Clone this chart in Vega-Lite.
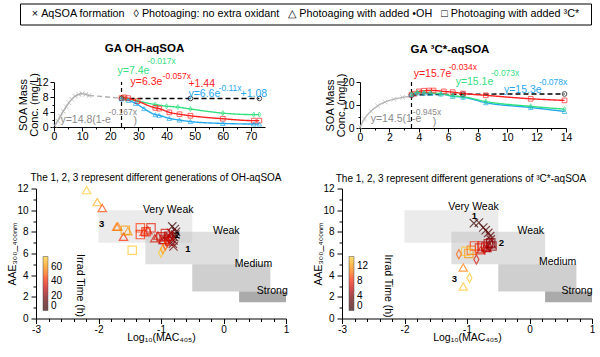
{
 "$schema": "https://vega.github.io/schema/vega-lite/v6.json",
 "background": "white",
 "padding": {"left": 0, "top": 2.5, "right": 0, "bottom": 0},
 "config": {
  "font": "Liberation Sans",
  "view": {"stroke": null},
  "axis": {"grid": false, "domainColor": "black", "tickColor": "black", "labelColor": "black", "titleColor": "black", "labelFont": "Liberation Sans", "titleFont": "Liberation Sans", "labelFontSize": 10, "titleFontSize": 10.5, "titleFontWeight": "normal", "domainWidth": 1, "tickWidth": 1, "labelFlush": false, "labelOverlap": false},
  "legend": {"labelFont": "Liberation Sans", "labelFontSize": 10, "labelColor": "black"},
  "title": {"font": "Liberation Sans", "color": "black"},
  "text": {"font": "Liberation Sans"}
 },
 "datasets": {
  "tl": [
   {"t":0.3,"c":0.4,"s":"form"},{"t":1.3,"c":1.6,"s":"form"},{"t":2.3,"c":2.9,"s":"form"},{"t":3.3,"c":4.2,"s":"form"},{"t":4.3,"c":5.4,"s":"form"},{"t":5.3,"c":6.5,"s":"form"},{"t":6.3,"c":7.4,"s":"form"},{"t":7.5,"c":8.2,"s":"form"},{"t":8.8,"c":8.7,"s":"form"},{"t":10,"c":8.9,"s":"form"},{"t":11.3,"c":8.7,"s":"form"},{"t":12.5,"c":8.4,"s":"form"},
   {"t":12.5,"c":8.4,"s":"formtail"},{"t":24,"c":7.7,"s":"formtail"},
   {"t":24,"c":7.6,"s":"ctrl"},{"t":48.5,"c":7.6,"s":"ctrl"},{"t":73,"c":7.6,"s":"ctrl"},
   {"t":24,"c":7.6,"s":"none"},{"t":25.5,"c":7.5,"s":"none"},{"t":29.7,"c":6.9,"s":"none"},{"t":36,"c":6.0,"s":"none"},{"t":40,"c":5.55,"s":"none"},{"t":44,"c":5.3,"s":"none"},{"t":48.5,"c":4.8,"s":"none"},{"t":60,"c":3.7,"s":"none"},{"t":71,"c":3.3,"s":"none"},{"t":73,"c":3.3,"s":"none"},
   {"t":24,"c":7.7,"s":"c3"},{"t":25,"c":7.9,"s":"c3"},{"t":26.3,"c":7.7,"s":"c3"},{"t":29.7,"c":6.9,"s":"c3"},{"t":36,"c":5.1,"s":"c3"},{"t":37.4,"c":4.9,"s":"c3"},{"t":41,"c":3.9,"s":"c3"},{"t":44.6,"c":3.4,"s":"c3"},{"t":48.5,"c":3.0,"s":"c3"},{"t":60,"c":2.2,"s":"c3"},{"t":71,"c":1.7,"s":"c3"},{"t":73,"c":1.7,"s":"c3"},
   {"t":24,"c":7.5,"s":"oh"},{"t":26.5,"c":7.1,"s":"oh"},{"t":29,"c":6.3,"s":"oh"},{"t":32,"c":4.9,"s":"oh"},{"t":36,"c":3.3,"s":"oh"},{"t":37.4,"c":3.1,"s":"oh"},{"t":41,"c":2.3,"s":"oh"},{"t":44.6,"c":1.85,"s":"oh"},{"t":48.5,"c":1.45,"s":"oh"},{"t":60,"c":0.95,"s":"oh"},{"t":71,"c":0.8,"s":"oh"},{"t":73,"c":0.8,"s":"oh"}
  ],
  "tl_rule": [{"t":24,"c":0,"c2":12}],
  "tl_txt": [
   {"t":22.6,"c":14.9,"label":"y=7.4e","s":"none","k":"m"},
   {"t":33.2,"c":17.5,"label":"-0.017x","s":"none","k":"s"},
   {"t":27.2,"c":11.9,"label":"y=6.3e","s":"c3","k":"m"},
   {"t":38.6,"c":13.5,"label":"-0.057x","s":"c3","k":"s"},
   {"t":47.8,"c":11.6,"label":"+1.44","s":"c3","k":"m"},
   {"t":47.8,"c":8.9,"label":"y=6.6e","s":"oh","k":"m"},
   {"t":58.5,"c":10.3,"label":"-0.11x","s":"oh","k":"s"},
   {"t":66.3,"c":8.9,"label":"+1.08","s":"oh","k":"m"},
   {"t":2.3,"c":2.0,"label":"y=14.8(1-e","s":"formtxt","k":"m"},
   {"t":19.4,"c":4.1,"label":"-0.167x","s":"formtxt","k":"s"},
   {"t":28.3,"c":1.7,"label":")","s":"formtxt","k":"m"}
  ],
  "tr": [
   {"t":0,"c":0.3,"s":"form"},{"t":0.3,"c":4.0,"s":"form"},{"t":0.75,"c":7.3,"s":"form"},{"t":1.2,"c":9.6,"s":"form"},{"t":1.7,"c":11.3,"s":"form"},{"t":2.3,"c":12.5,"s":"form"},{"t":2.9,"c":13.3,"s":"form"},{"t":3.4,"c":13.8,"s":"form"},
   {"t":3.5,"c":14.3,"s":"ctrl"},{"t":7.0,"c":14.7,"s":"ctrl"},{"t":13.9,"c":14.8,"s":"ctrl"},
   {"t":3.5,"c":14.5,"s":"c3"},{"t":3.7,"c":14.9,"s":"c3"},{"t":4.0,"c":15.9,"s":"c3"},{"t":4.35,"c":16.2,"s":"c3"},{"t":4.7,"c":16.3,"s":"c3"},{"t":5.0,"c":16.3,"s":"c3"},{"t":5.7,"c":15.9,"s":"c3"},{"t":6.3,"c":15.6,"s":"c3"},{"t":7.0,"c":15.0,"s":"c3"},{"t":8.55,"c":14.2,"s":"c3"},{"t":11.6,"c":12.7,"s":"c3"},{"t":13.9,"c":12.0,"s":"c3"},
   {"t":3.5,"c":14.6,"s":"oh"},{"t":3.9,"c":15.3,"s":"oh"},{"t":4.35,"c":15.2,"s":"oh"},{"t":4.8,"c":15.0,"s":"oh"},{"t":5.5,"c":14.8,"s":"oh"},{"t":6.3,"c":13.8,"s":"oh"},{"t":7.0,"c":13.4,"s":"oh"},{"t":8.55,"c":11.0,"s":"oh"},{"t":11.6,"c":8.9,"s":"oh"},{"t":13.9,"c":7.2,"s":"oh"},
   {"t":3.5,"c":14.6,"s":"none"},{"t":3.9,"c":15.4,"s":"none"},{"t":4.35,"c":15.4,"s":"none"},{"t":4.8,"c":15.2,"s":"none"},{"t":5.5,"c":14.9,"s":"none"},{"t":6.3,"c":14.0,"s":"none"},{"t":7.0,"c":13.6,"s":"none"},{"t":8.55,"c":11.5,"s":"none"},{"t":11.6,"c":9.4,"s":"none"},{"t":13.9,"c":8.2,"s":"none"}
  ],
  "tr_rule": [{"t":3.5,"c":0,"c2":20}],
  "tr_txt": [
   {"t":3.65,"c":23.3,"label":"y=15.7e","s":"c3","k":"m"},
   {"t":6.03,"c":26.6,"label":"-0.034x","s":"c3","k":"s"},
   {"t":6.5,"c":20.1,"label":"y=15.1e","s":"none","k":"m"},
   {"t":8.9,"c":23.7,"label":"-0.073x","s":"none","k":"s"},
   {"t":9.78,"c":16.4,"label":"y=15.3e","s":"oh","k":"m"},
   {"t":12.16,"c":20.1,"label":"-0.078x","s":"oh","k":"s"},
   {"t":0.73,"c":4.1,"label":"y=14.5(1-e","s":"formtxt","k":"m"},
   {"t":3.59,"c":7.0,"label":"-0.945x","s":"formtxt","k":"s"},
   {"t":4.95,"c":2.8,"label":")","s":"formtxt","k":"m"}
  ],
  "rects": [
   {"x":-2,"x2":-0.5,"y":7,"y2":10,"r":"Very Weak"},
   {"x":-1.25,"x2":0.25,"y":5,"y2":8,"r":"Weak"},
   {"x":-0.5,"x2":0.75,"y":2.5,"y2":5,"r":"Medium"},
   {"x":0.25,"x2":1,"y":1.5,"y2":2.5,"r":"Strong"}
  ],
  "bl_lab": [
   {"x":-0.885,"y":10.0,"label":"Very Weak"},{"x":0.044,"y":8.1,"label":"Weak"},{"x":0.48,"y":5.05,"label":"Medium"},{"x":0.78,"y":2.55,"label":"Strong"}
  ],
  "br_lab": [
   {"x":-0.896,"y":10.3,"label":"Very Weak"},{"x":0.02,"y":8.1,"label":"Weak"},{"x":0.45,"y":5.17,"label":"Medium"},{"x":0.76,"y":2.55,"label":"Strong"}
  ],
  "bl_gen": [{"x":-1.95,"y":8.7,"label":"3"},{"x":-0.74,"y":7.7,"label":"2"},{"x":-0.57,"y":6.4,"label":"1"}],
  "br_gen": [{"x":-0.88,"y":9.45,"label":"1"},{"x":-0.45,"y":7.0,"label":"2"},{"x":-1.2,"y":3.64,"label":"3"}],
  "bl_cb": [{"x":-2.3,"y":3.05,"label":"Irrad Time (h)"}],
  "br_cb": [{"x":-2.27,"y":3.0,"label":"Irrad Time (h)"}],
  "bl": [
   {"x":-0.82,"y":8.5,"s":"form","t":1},{"x":-0.78,"y":8.25,"s":"form","t":3},{"x":-0.76,"y":8.0,"s":"form","t":5},{"x":-0.77,"y":7.75,"s":"form","t":7},{"x":-0.79,"y":7.5,"s":"form","t":9},{"x":-0.8,"y":7.2,"s":"form","t":12},{"x":-0.81,"y":6.9,"s":"form","t":15},{"x":-0.8,"y":6.65,"s":"form","t":18},{"x":-0.84,"y":7.9,"s":"form","t":21},{"x":-0.86,"y":7.6,"s":"form","t":24},
   {"x":-2.19,"y":11.85,"s":"oh","t":72},{"x":-2.02,"y":10.74,"s":"oh","t":66},{"x":-1.94,"y":10.2,"s":"oh","t":48},{"x":-1.71,"y":8.47,"s":"oh","t":54},{"x":-1.69,"y":8.5,"s":"oh","t":56},{"x":-1.53,"y":8.06,"s":"oh","t":60},{"x":-1.6,"y":7.55,"s":"oh","t":44},{"x":-1.27,"y":8.0,"s":"oh","t":42},{"x":-1.21,"y":8.15,"s":"oh","t":40},{"x":-1.1,"y":7.4,"s":"oh","t":36},{"x":-1.05,"y":7.65,"s":"oh","t":33},{"x":-0.97,"y":7.25,"s":"oh","t":30},{"x":-0.92,"y":7.5,"s":"oh","t":27},
   {"x":-1.57,"y":8.15,"s":"c3","t":62},{"x":-1.46,"y":6.3,"s":"c3","t":72},{"x":-1.33,"y":8.37,"s":"c3","t":46},{"x":-1.33,"y":7.75,"s":"c3","t":44},{"x":-1.24,"y":8.0,"s":"c3","t":40},{"x":-1.16,"y":8.37,"s":"c3","t":38},{"x":-1.0,"y":7.55,"s":"c3","t":36},{"x":-0.93,"y":7.85,"s":"c3","t":34},{"x":-0.95,"y":7.3,"s":"c3","t":31},{"x":-0.88,"y":7.6,"s":"c3","t":28},{"x":-0.86,"y":7.15,"s":"c3","t":26},
   {"x":-1.0,"y":6.07,"s":"none","t":72},{"x":-0.97,"y":6.4,"s":"none","t":62},{"x":-0.93,"y":6.75,"s":"none","t":50},{"x":-0.9,"y":7.05,"s":"none","t":40},{"x":-0.87,"y":7.35,"s":"none","t":30}
  ],
  "br": [
   {"x":-0.89,"y":8.8,"s":"form","t":0.3},{"x":-0.81,"y":8.85,"s":"form","t":0.8},{"x":-0.74,"y":8.4,"s":"form","t":1.3},{"x":-0.7,"y":8.15,"s":"form","t":1.8},{"x":-0.66,"y":7.9,"s":"form","t":2.3},{"x":-0.63,"y":7.6,"s":"form","t":2.8},{"x":-0.62,"y":7.3,"s":"form","t":3.3},
   {"x":-0.62,"y":7.0,"s":"c3","t":4},{"x":-0.6,"y":6.7,"s":"c3","t":4.5},{"x":-0.66,"y":6.9,"s":"c3","t":5},{"x":-0.7,"y":6.6,"s":"c3","t":5.5},{"x":-0.76,"y":6.7,"s":"c3","t":6},{"x":-0.8,"y":6.5,"s":"c3","t":7},{"x":-0.88,"y":6.7,"s":"c3","t":8.5},{"x":-0.93,"y":6.3,"s":"c3","t":10},{"x":-0.97,"y":6.0,"s":"c3","t":12},{"x":-1.02,"y":6.2,"s":"c3","t":14},
   {"x":-0.64,"y":6.6,"s":"none","t":4.5},{"x":-0.72,"y":6.4,"s":"none","t":6},{"x":-1.13,"y":5.93,"s":"none","t":10},{"x":-0.85,"y":5.45,"s":"none","t":7},{"x":-0.96,"y":3.75,"s":"none","t":14},
   {"x":-0.61,"y":6.85,"s":"oh","t":4},{"x":-0.68,"y":6.5,"s":"oh","t":5.5},{"x":-0.78,"y":6.3,"s":"oh","t":7},{"x":-1.06,"y":4.7,"s":"oh","t":11},{"x":-1.06,"y":2.95,"s":"oh","t":14}
  ]
 },
 "spacing": 17.5,
 "resolve": {"scale": {"color": "independent", "shape": "independent", "stroke": "independent", "fill": "independent", "strokeDash": "independent"}},
 "vconcat": [
  {
   "spacing": 0, "bounds": "flush",
   "hconcat": [
    {"width": 20, "height": 21, "view": {"fill": "transparent"}, "data": {"values": []}, "mark": "point"},
    {
     "width": 571, "height": 21,
     "view": {"stroke": "black", "strokeWidth": 1},
     "data": {"values": [{"label": "×\u00a0AqSOA formation\u00a0\u00a0\u00a0◊\u00a0Photoaging: no extra oxidant\u00a0\u00a0\u00a0△\u00a0Photoaging with added •OH\u00a0\u00a0\u00a0□\u00a0Photoaging with added ³C*"}]},
     "mark": {"type": "text", "fontSize": 10.8, "align": "center", "baseline": "middle", "color": "black"},
     "encoding": {"text": {"field": "label"}}
    }
   ]
  },
  {
   "spacing": 0, "bounds": "flush",
   "resolve": {"scale": {"color": "independent", "shape": "independent", "stroke": "independent", "fill": "independent", "strokeDash": "independent"}},
   "hconcat": [
    {"width": 53.5, "height": 72.5, "view": {"fill": "transparent"}, "data": {"values": []}, "mark": "point"},
    {
     "width": 211, "height": 45,
     "title": {"text": "GA OH-aqSOA", "fontSize": 11.5, "fontWeight": "bold", "offset": 2.5, "dx": -15},
     "data": {"name": "tl"},
     "encoding": {
      "x": {"field": "t", "type": "quantitative", "scale": {"domain": [0, 75], "nice": false, "zero": false},
       "axis": {"title": null, "values": [0,5,10,15,20,25,30,35,40,45,50,55,60,65,70], "labelExpr": "datum.value % 10 === 0 ? datum.label : ''", "tickSize": {"condition": {"test": "datum.value % 10 === 0", "value": 4}, "value": 2}, "labelPadding": 0.5, "labelFontSize": 10.5}},
      "y": {"field": "c", "type": "quantitative", "scale": {"domain": [0, 12], "nice": false, "zero": false},
       "axis": {"title": ["SOA Mass", "Conc. (mg/L)"], "values": [0,2,4,6,8,10,12], "labelExpr": "datum.value % 4 === 0 ? datum.label : ''", "tickSize": {"condition": {"test": "datum.value % 4 === 0", "value": 4}, "value": 2}, "labelPadding": 2, "titlePadding": -3, "titleFontSize": 11, "titleLineHeight": 11, "labelFontSize": 10.5}}
     },
     "layer": [
      {"data": {"name": "tl_rule"}, "mark": {"type": "rule", "color": "black", "strokeWidth": 1.2, "strokeDash": [4, 3]}, "encoding": {"y2": {"field": "c2"}}},
      {"mark": {"type": "line", "strokeWidth": 1.4, "interpolate": "monotone"},
       "encoding": {
        "color": {"field": "s", "type": "nominal", "legend": null, "scale": {"domain": ["form","formtail","formtxt","ctrl","none","oh","c3"], "range": ["#b0b0b0","#b0b0b0","#8a8a8a","#000000","#33e07f","#1fa8ee","#ff2020"]}},
        "strokeDash": {"field": "s", "type": "nominal", "legend": null, "scale": {"domain": ["form","formtail","ctrl","none","oh","c3"], "range": [[1,0],[5,3],[5,3],[1,0],[1,0],[1,0]]}}
       }},
      {"transform": [{"filter": "datum.s !== 'formtail'"}], "mark": {"type": "point", "filled": false, "size": 22, "strokeWidth": 1},
       "encoding": {
        "color": {"field": "s", "type": "nominal", "legend": null, "scale": {"domain": ["form","formtail","formtxt","ctrl","none","oh","c3"], "range": ["#b0b0b0","#b0b0b0","#8a8a8a","#000000","#33e07f","#1fa8ee","#ff2020"]}},
        "shape": {"field": "s", "type": "nominal", "legend": null, "scale": {"domain": ["form","ctrl","none","oh","c3"], "range": ["M-1,-1L1,1M-1,1L1,-1","circle","M0,-1.1L0.6,0L0,1.1L-0.6,0Z","triangle-up","square"]}}
       }},
      {"data": {"name": "tl_txt"}, "transform": [{"filter": "datum.k === 'm'"}], "mark": {"type": "text", "align": "left", "baseline": "middle", "fontSize": 10.5},
       "encoding": {"text": {"field": "label"}, "color": {"field": "s", "type": "nominal", "legend": null, "scale": {"domain": ["form","formtail","formtxt","ctrl","none","oh","c3"], "range": ["#b0b0b0","#b0b0b0","#8a8a8a","#000000","#33e07f","#1fa8ee","#ff2020"]}}}},
      {"data": {"name": "tl_txt"}, "transform": [{"filter": "datum.k === 's'"}], "mark": {"type": "text", "align": "left", "baseline": "middle", "fontSize": 8.5},
       "encoding": {"text": {"field": "label"}, "color": {"field": "s", "type": "nominal", "legend": null, "scale": {"domain": ["form","formtail","formtxt","ctrl","none","oh","c3"], "range": ["#b0b0b0","#b0b0b0","#8a8a8a","#000000","#33e07f","#1fa8ee","#ff2020"]}}}}
     ]
    },
    {"width": 94.9, "height": 45, "view": {"fill": "transparent"}, "data": {"values": []}, "mark": "point"},
    {
     "width": 206, "height": 46,
     "title": {"text": "GA ³C*-aqSOA", "fontSize": 11.5, "fontWeight": "bold", "offset": 7.5, "dx": -13},
     "data": {"name": "tr"},
     "encoding": {
      "x": {"field": "t", "type": "quantitative", "scale": {"domain": [0, 14], "nice": false, "zero": false},
       "axis": {"title": null, "values": [0,1,2,3,4,5,6,7,8,9,10,11,12,13,14], "labelExpr": "datum.value % 2 === 0 ? datum.label : ''", "tickSize": {"condition": {"test": "datum.value % 2 === 0", "value": 4}, "value": 2}, "labelPadding": 0.5, "labelFontSize": 10.5}},
      "y": {"field": "c", "type": "quantitative", "scale": {"domain": [0, 20], "nice": false, "zero": false},
       "axis": {"title": ["SOA Mass", "Conc. (mg/L)"], "values": [0,5,10,15,20], "labelExpr": "datum.value % 10 === 0 ? datum.label : ''", "tickSize": {"condition": {"test": "datum.value % 10 === 0", "value": 4}, "value": 2}, "labelPadding": 2, "titlePadding": -4, "titleFontSize": 11, "titleLineHeight": 11, "labelFontSize": 10.5}}
     },
     "layer": [
      {"data": {"name": "tr_rule"}, "mark": {"type": "rule", "color": "black", "strokeWidth": 1.2, "strokeDash": [4, 3]}, "encoding": {"y2": {"field": "c2"}}},
      {"mark": {"type": "line", "strokeWidth": 1.4, "interpolate": "monotone"},
       "encoding": {
        "color": {"field": "s", "type": "nominal", "legend": null, "scale": {"domain": ["form","formtail","formtxt","ctrl","none","oh","c3"], "range": ["#b8b8b8","#b8b8b8","#8a8a8a","#000000","#33e07f","#1fa8ee","#ff2020"]}},
        "strokeDash": {"field": "s", "type": "nominal", "legend": null, "scale": {"domain": ["form","formtail","ctrl","none","oh","c3"], "range": [[1,0],[5,3],[5,3],[1,0],[1,0],[1,0]]}}
       }},
      {"mark": {"type": "point", "filled": false, "size": 22, "strokeWidth": 1},
       "encoding": {
        "color": {"field": "s", "type": "nominal", "legend": null, "scale": {"domain": ["form","formtail","formtxt","ctrl","none","oh","c3"], "range": ["#b8b8b8","#b8b8b8","#8a8a8a","#000000","#33e07f","#1fa8ee","#ff2020"]}},
        "shape": {"field": "s", "type": "nominal", "legend": null, "scale": {"domain": ["form","ctrl","none","oh","c3"], "range": ["M-1,-1L1,1M-1,1L1,-1","circle","M0,-1.1L0.6,0L0,1.1L-0.6,0Z","triangle-up","square"]}}
       }},
      {"data": {"name": "tr_txt"}, "transform": [{"filter": "datum.k === 'm'"}], "mark": {"type": "text", "align": "left", "baseline": "middle", "fontSize": 10.5},
       "encoding": {"text": {"field": "label"}, "color": {"field": "s", "type": "nominal", "legend": null, "scale": {"domain": ["form","formtail","formtxt","ctrl","none","oh","c3"], "range": ["#b8b8b8","#b8b8b8","#8a8a8a","#000000","#33e07f","#1fa8ee","#ff2020"]}}}},
      {"data": {"name": "tr_txt"}, "transform": [{"filter": "datum.k === 's'"}], "mark": {"type": "text", "align": "left", "baseline": "middle", "fontSize": 8.5},
       "encoding": {"text": {"field": "label"}, "color": {"field": "s", "type": "nominal", "legend": null, "scale": {"domain": ["form","formtail","formtxt","ctrl","none","oh","c3"], "range": ["#b8b8b8","#b8b8b8","#8a8a8a","#000000","#33e07f","#1fa8ee","#ff2020"]}}}}
     ]
    }
   ]
  },
  {
   "spacing": 0, "bounds": "flush",
   "resolve": {"scale": {"color": "independent", "shape": "independent", "stroke": "independent", "fill": "independent", "strokeDash": "independent"}},
   "hconcat": [
    {"width": 36, "height": 130, "view": {"fill": "transparent"}, "data": {"values": []}, "mark": "point"},
    {
     "width": 250, "height": 130,
     "title": {"text": "The 1, 2, 3 represent different generations of OH-aqSOA", "fontSize": 10, "fontWeight": "normal", "offset": 0.5, "dx": -5},
     "encoding": {
      "x": {"field": "x", "type": "quantitative", "scale": {"domain": [-3, 1], "nice": false, "zero": false},
       "axis": {"title": "Log₁₀(MAC₄₀₅)", "values": [-3,-2.8,-2.6,-2.4,-2.2,-2,-1.8,-1.6,-1.4,-1.2,-1,-0.8,-0.6,-0.4,-0.2,0,0.2,0.4,0.6,0.8,1], "labelExpr": "datum.value % 1 === 0 ? '' + datum.value : ''", "tickSize": {"condition": {"test": "datum.value % 1 === 0", "value": 5}, "value": 3}, "labelPadding": 1, "titlePadding": -2}},
      "y": {"field": "y", "type": "quantitative", "scale": {"domain": [0, 12], "nice": false, "zero": false},
       "axis": {"title": "AAE₃₀₀_₄₀₀ₙₘ", "values": [0,1,2,3,4,5,6,7,8,9,10,11,12], "labelExpr": "datum.value % 2 === 0 ? datum.label : ''", "tickSize": {"condition": {"test": "datum.value % 2 === 0", "value": 5}, "value": 3}, "labelPadding": 3, "titlePadding": -1}}
     },
     "layer": [
      {"data": {"name": "rects"}, "mark": {"type": "rect", "opacity": 0.5},
       "encoding": {"x2": {"field": "x2"}, "y2": {"field": "y2"}, "fill": {"field": "r", "type": "nominal", "legend": null, "scale": {"domain": ["Very Weak","Weak","Medium","Strong"], "range": ["#d8d8d8","#c0c0c0","#a0a0a0","#555555"]}}}},
      {"data": {"name": "bl_lab"}, "mark": {"type": "text", "fontSize": 10.5, "align": "center", "baseline": "middle", "color": "black"}, "encoding": {"text": {"field": "label"}}},
      {"data": {"name": "bl"}, "mark": {"type": "point", "filled": false, "size": 70, "strokeWidth": 1.2},
       "encoding": {
        "shape": {"field": "s", "type": "nominal", "legend": null, "scale": {"domain": ["form","none","oh","c3"], "range": ["M-1,-1L1,1M-1,1L1,-1","M0,-1.1L0.6,0L0,1.1L-0.6,0Z","triangle-up","square"]}},
        "stroke": {"field": "t", "type": "quantitative", "scale": {"domain": [0, 74], "range": ["#000000","#600000","#c00000","#ff2a00","#ff8c00","#ffd033"]},
         "legend": {"orient": "bottom-left", "title": null, "values": [0,20,40,60], "direction": "vertical", "gradientLength": 54, "gradientThickness": 5, "offset": 7, "padding": 0, "labelOverlap": false, "gradientStrokeColor": "black", "gradientStrokeWidth": 0.5, "labelFontSize": 10, "labelOffset": 3}}
       }},
      {"data": {"name": "bl_gen"}, "mark": {"type": "text", "fontSize": 9.5, "fontWeight": "bold", "color": "black"}, "encoding": {"text": {"field": "label"}}},
      {"data": {"name": "bl_cb"}, "mark": {"type": "text", "angle": 90, "fontSize": 10.5, "align": "center", "baseline": "middle", "color": "black"}, "encoding": {"text": {"field": "label"}}}
     ]
    },
    {"width": 56, "height": 130, "view": {"fill": "transparent"}, "data": {"values": []}, "mark": "point"},
    {
     "width": 250, "height": 130,
     "title": {"text": "The 1, 2, 3 represent different generations of ³C*-aqSOA", "fontSize": 10, "fontWeight": "normal", "offset": 0, "dx": -6},
     "encoding": {
      "x": {"field": "x", "type": "quantitative", "scale": {"domain": [-3, 1], "nice": false, "zero": false},
       "axis": {"title": "Log₁₀(MAC₄₀₅)", "values": [-3,-2.8,-2.6,-2.4,-2.2,-2,-1.8,-1.6,-1.4,-1.2,-1,-0.8,-0.6,-0.4,-0.2,0,0.2,0.4,0.6,0.8,1], "labelExpr": "datum.value % 1 === 0 ? '' + datum.value : ''", "tickSize": {"condition": {"test": "datum.value % 1 === 0", "value": 5}, "value": 3}, "labelPadding": 1, "titlePadding": -2}},
      "y": {"field": "y", "type": "quantitative", "scale": {"domain": [0, 12], "nice": false, "zero": false},
       "axis": {"title": "AAE₃₀₀_₄₀₀ₙₘ", "values": [0,1,2,3,4,5,6,7,8,9,10,11,12], "labelExpr": "datum.value % 2 === 0 ? datum.label : ''", "tickSize": {"condition": {"test": "datum.value % 2 === 0", "value": 5}, "value": 3}, "labelPadding": 3, "titlePadding": -1}}
     },
     "layer": [
      {"data": {"name": "rects"}, "mark": {"type": "rect", "opacity": 0.5},
       "encoding": {"x2": {"field": "x2"}, "y2": {"field": "y2"}, "fill": {"field": "r", "type": "nominal", "legend": null, "scale": {"domain": ["Very Weak","Weak","Medium","Strong"], "range": ["#d8d8d8","#c0c0c0","#a0a0a0","#555555"]}}}},
      {"data": {"name": "br_lab"}, "mark": {"type": "text", "fontSize": 10.5, "align": "center", "baseline": "middle", "color": "black"}, "encoding": {"text": {"field": "label"}}},
      {"data": {"name": "br"}, "mark": {"type": "point", "filled": false, "size": 70, "strokeWidth": 1.2},
       "encoding": {
        "shape": {"field": "s", "type": "nominal", "legend": null, "scale": {"domain": ["form","none","oh","c3"], "range": ["M-1,-1L1,1M-1,1L1,-1","M0,-1.1L0.6,0L0,1.1L-0.6,0Z","triangle-up","square"]}},
        "stroke": {"field": "t", "type": "quantitative", "scale": {"domain": [0, 14.5], "range": ["#000000","#600000","#c00000","#ff2a00","#ff8c00","#ffd033"]},
         "legend": {"orient": "bottom-left", "title": null, "values": [0,4,8,12], "direction": "vertical", "gradientLength": 54, "gradientThickness": 5, "offset": 7, "padding": 0, "labelOverlap": false, "gradientStrokeColor": "black", "gradientStrokeWidth": 0.5, "labelFontSize": 10, "labelOffset": 3}}
       }},
      {"data": {"name": "br_gen"}, "mark": {"type": "text", "fontSize": 9.5, "fontWeight": "bold", "color": "black"}, "encoding": {"text": {"field": "label"}}},
      {"data": {"name": "br_cb"}, "mark": {"type": "text", "angle": 90, "fontSize": 10.5, "align": "center", "baseline": "middle", "color": "black"}, "encoding": {"text": {"field": "label"}}}
     ]
    }
   ]
  }
 ]
}
